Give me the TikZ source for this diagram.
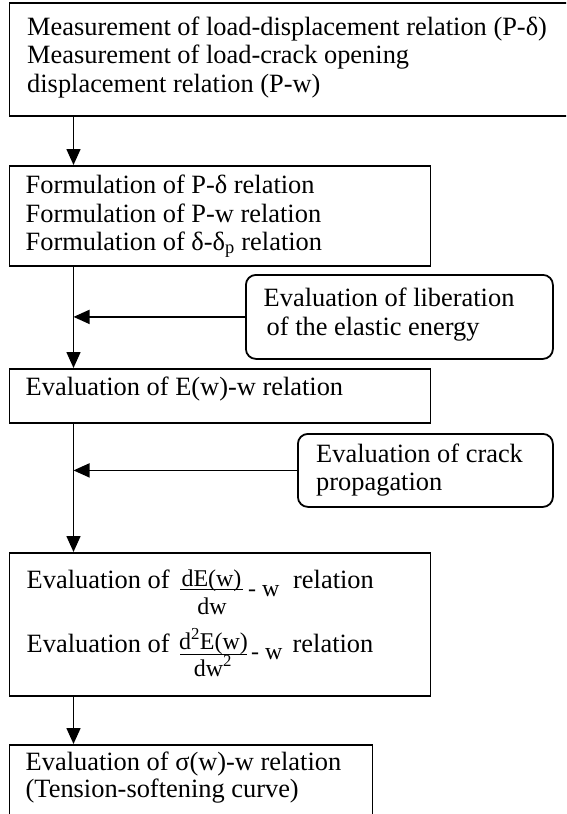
\documentclass[tikz,border=0pt]{standalone}
\usepackage{fontspec}
\setmainfont{Liberation Serif}
\usetikzlibrary{arrows.meta}
\tikzset{
  box/.style={draw, line width=1.8pt, rectangle, inner sep=0pt, anchor=north west},
  sidebox/.style={box, rounded corners=10pt},
  txt/.style={anchor=base west, inner sep=0pt, font=\fontsize{26.4}{30}\selectfont},
  ctr/.style={anchor=base, inner sep=0pt, font=\fontsize{24}{28}\selectfont},
  small/.style={anchor=base west, inner sep=0pt, font=\fontsize{24}{28}\selectfont},
  arr/.style={line width=1.6pt, -{Triangle[width=14pt,length=16pt]}},
  bar/.style={line width=1pt}
}
\begin{document}
\begin{tikzpicture}[x=1pt,y=-1pt]
\useasboundingbox (0,0) rectangle (566,814);
\clip (0,0) rectangle (566,814);
\coordinate (axis) at (73.5,0);
% boxes
\node[box, minimum width=600pt, minimum height=113pt] (b1) at (8.5,2) {};
\node[box, minimum width=421pt, minimum height=100pt] (b2) at (8.5,165) {};
\node[sidebox, minimum width=307pt, minimum height=84pt] (s1) at (245,274) {};
\node[box, minimum width=421pt, minimum height=54pt] (b3) at (8.5,368) {};
\node[sidebox, minimum width=255pt, minimum height=73pt] (s2) at (297,433) {};
\node[box, minimum width=421pt, minimum height=143pt] (b4) at (8.5,552) {};
\node[box, minimum width=363pt, minimum height=90pt] (b5) at (8.5,744) {};
% texts
\node[txt] (t11) at (27,35) {Measurement of load-displacement relation (P-δ)};
\node[txt] (t12) at (27,63.5) {Measurement of load-crack opening};
\node[txt] (t13) at (27,92) {displacement relation (P-w)};
\node[txt] (t21) at (25.5,193) {Formulation of P-δ relation};
\node[txt] (t22) at (25.5,222) {Formulation of P-w relation};
\node[txt] (t23) at (25.5,250) {Formulation of δ-δ\textsubscript{p} relation};
\node[txt] (s11) at (263.5,306) {Evaluation of liberation};
\node[txt] (s12) at (266.5,335) {of the elastic energy};
\node[txt] (t31) at (25.5,395) {Evaluation of E(w)-w relation};
\node[txt] (s21) at (316,462) {Evaluation of crack};
\node[txt] (s22) at (316,490) {propagation};
% box 4
\node[txt] (t41) at (26.5,588) {Evaluation of};
\node[ctr] (n1) at (211.5,586.5) {dE(w)};
\draw[bar] (180,589.5) -- (243,589.5);
\node[ctr] (d1) at (212,614.5) {dw};
\node[small] (m1) at (248,596) {- w};
\node[txt] (r1) at (293,588) {relation};
\node[txt] (t42) at (26.5,652) {Evaluation of};
\node[ctr] (n2) at (213.5,649) {d\textsuperscript{2}E(w)};
\draw[bar] (180,654.5) -- (247,654.5);
\node[ctr] (d2) at (213,676) {dw\textsuperscript{2}};
\node[small] (m2) at (251,659) {- w};
\node[txt] (r2) at (292.5,652) {relation};
% box 5
\node[txt] (t51) at (25.5,770) {Evaluation of σ(w)-w relation};
\node[txt] (t52) at (25.5,797) {(Tension-softening curve)};
% connectors
\draw[arr] (b1.south -| axis) -- (b2.north -| axis);
\draw[arr] (b2.south -| axis) -- (b3.north -| axis);
\draw[arr] (s1.west) -- (s1.west -| axis);
\draw[arr] (b3.south -| axis) -- (b4.north -| axis);
\draw[arr] (s2.west) -- (s2.west -| axis);
\draw[arr] (b4.south -| axis) -- (b5.north -| axis);
\end{tikzpicture}
\end{document}
